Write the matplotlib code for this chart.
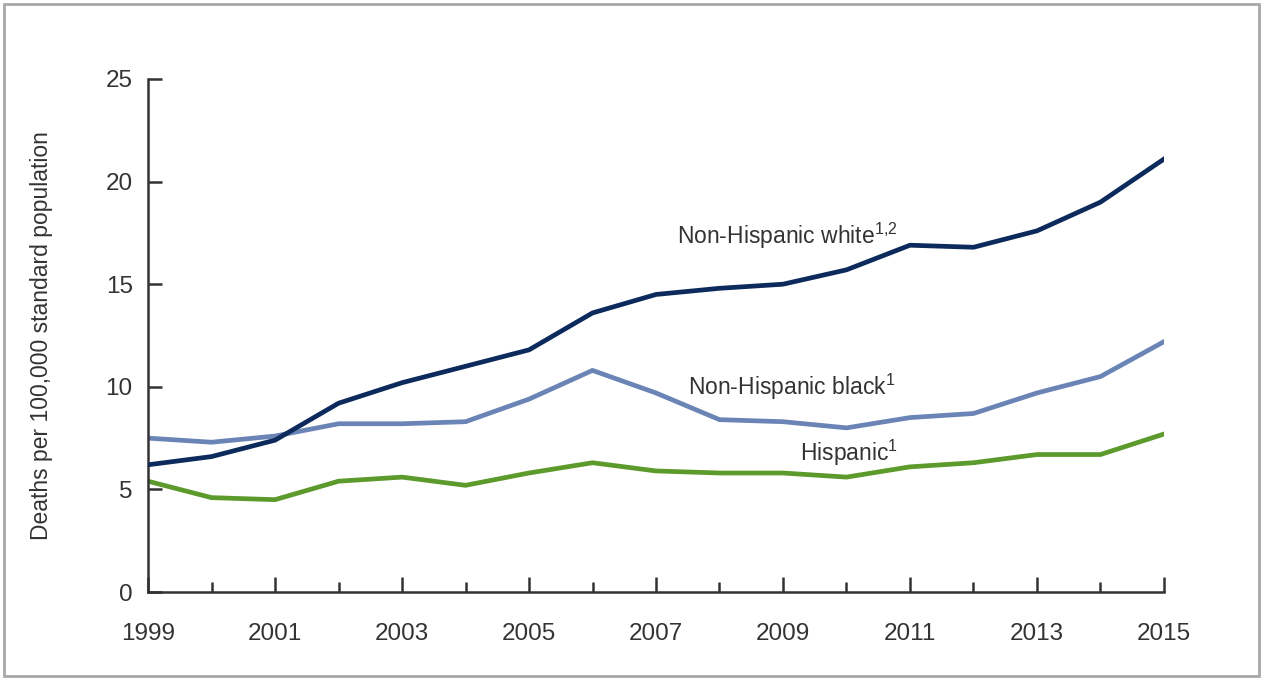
import matplotlib.pyplot as plt
from matplotlib.patches import Rectangle
from matplotlib.ticker import MultipleLocator
import numpy as np

plt.rcParams['font.family'] = ['Liberation Sans', 'DejaVu Sans']
plt.rcParams['mathtext.fontset'] = 'custom'
plt.rcParams['mathtext.rm'] = 'Liberation Sans'
plt.rcParams['mathtext.it'] = 'Liberation Sans'

# Data
years = np.arange(1999, 2016)
white = [6.2, 6.6, 7.4, 9.2, 10.2, 11.0, 11.8, 13.6, 14.5, 14.8, 15.0, 15.7, 16.9, 16.8, 17.6, 19.0, 21.1]
black = [7.5, 7.3, 7.6, 8.2, 8.2, 8.3, 9.4, 10.8, 9.7, 8.4, 8.3, 8.0, 8.5, 8.7, 9.7, 10.5, 12.2]
hispanic = [5.4, 4.6, 4.5, 5.4, 5.6, 5.2, 5.8, 6.3, 5.9, 5.8, 5.8, 5.6, 6.1, 6.3, 6.7, 6.7, 7.7]
label_years = years[::2]

fig = plt.figure(figsize=(12.63, 6.78), dpi=100)
ax = fig.add_axes([0.1172, 0.1268, 0.8044, 0.7567])

# light gray frame round the whole figure
fig.patches.append(Rectangle((0.003, 0.003), 0.994, 0.991, transform=fig.transFigure,
                             fill=False, edgecolor='#a8a8a8', linewidth=2))

ax.plot(years, white, color='#0c2a5c', lw=3.4, zorder=3)
ax.plot(years, black, color='#6a84b6', lw=3.4, zorder=2)
ax.plot(years, hispanic, color='#5c9a2c', lw=3.4, zorder=2)

ax.text(2007.33, 17.35, 'Non-Hispanic white$^{1{,}2}$', fontsize=16.5, color='#333333', va='center')
ax.text(2007.5, 10.0, 'Non-Hispanic black$^{1}$', fontsize=16.5, color='#333333', va='center')
ax.text(2009.27, 6.8, 'Hispanic$^{1}$', fontsize=16.5, color='#333333', va='center')

ax.set_xlim(1999, 2015)
ax.set_ylim(0, 25)
ax.set_xticks(label_years)
ax.set_xticks(years, minor=True)
ax.yaxis.set_major_locator(MultipleLocator(5))

for s in ['top', 'right']:
    ax.spines[s].set_visible(False)
for s in ['left', 'bottom']:
    ax.spines[s].set_color('#333333')
    ax.spines[s].set_linewidth(1.8)

ax.tick_params(axis='x', which='major', direction='in', length=11, width=1.8,
               colors='#333333', labelsize=17.5, pad=22)
ax.tick_params(axis='x', which='minor', direction='in', length=7, width=1.8, colors='#333333')
ax.tick_params(axis='y', which='major', direction='in', length=10, width=1.8,
               colors='#333333', labelsize=17.5, pad=11)

ax.set_ylabel('Deaths per 100,000 standard population', fontsize=16.5, color='#333333', labelpad=38)

fig.savefig('out.png', dpi=100)
